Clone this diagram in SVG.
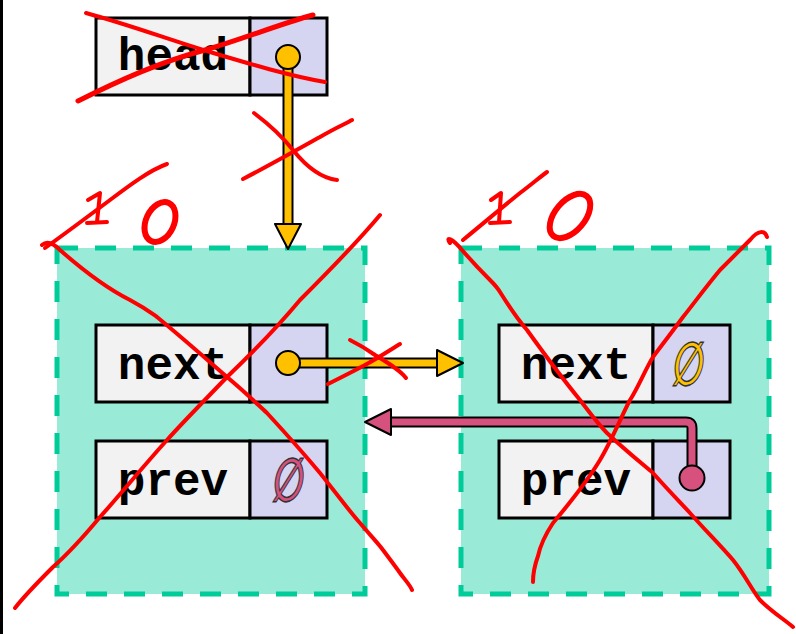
<svg xmlns="http://www.w3.org/2000/svg" width="796" height="634" viewBox="0 0 796 634">
<style>
.node{fill:#9AEAD8;stroke:#00CC99;stroke-width:5;stroke-dasharray:21 17}
.lab{fill:#F2F2F2;stroke:#000;stroke-width:3}
.val{fill:#D5D5F2;stroke:#000;stroke-width:3}
.t{font-family:"Courier New","Liberation Mono",monospace;font-weight:bold;font-size:46px;fill:#000}
.null{font-family:"DejaVu Sans",sans-serif;font-weight:bold;font-size:40px;stroke:#333;stroke-width:1}
.red{fill:none;stroke:#FF0000;stroke-linecap:round;stroke-linejoin:round}
</style>
<rect x="0" y="0" width="3" height="634" fill="#000"/>
<g id="head">
<rect class="lab" x="96" y="18" width="154" height="77"/>
<rect class="val" x="250" y="18" width="77" height="77"/>
<text class="t" x="173" y="70" text-anchor="middle">head</text>
</g>
<g id="node1">
<rect class="node" x="57" y="248" width="308" height="346"/>
<rect class="lab" x="96" y="325" width="154" height="77"/>
<rect class="val" x="250" y="325" width="77" height="77"/>
<text class="t" x="173" y="379" text-anchor="middle">next</text>
<rect class="lab" x="96" y="441" width="154" height="77"/>
<rect class="val" x="250" y="441" width="77" height="77"/>
<text class="t" x="173" y="495" text-anchor="middle">prev</text>
<text class="null" transform="translate(289,480) skewX(-8) scale(0.9,1.5)" x="0" y="14" text-anchor="middle" fill="#D6517D">∅</text>
</g>
<g id="node2">
<rect class="node" x="461" y="248" width="308" height="346"/>
<rect class="lab" x="499" y="325" width="154" height="77"/>
<rect class="val" x="653" y="325" width="77" height="77"/>
<text class="t" x="576" y="379" text-anchor="middle">next</text>
<text class="null" transform="translate(689,364) skewX(-8) scale(0.9,1.5)" x="0" y="14" text-anchor="middle" fill="#FFC000">∅</text>
<rect class="lab" x="499" y="441" width="154" height="77"/>
<rect class="val" x="653" y="441" width="77" height="77"/>
<text class="t" x="576" y="495" text-anchor="middle">prev</text>
</g>
<g id="connectors">
<!-- head -> node1 -->
<path d="M288,57 V226" stroke="#000" stroke-width="11" fill="none"/>
<path d="M288,57 V226" stroke="#FFC000" stroke-width="7" fill="none"/>
<polygon points="275,224 301,224 288,249" fill="#FFC000" stroke="#000" stroke-width="2" stroke-linejoin="round"/>
<circle cx="288" cy="57" r="12" fill="#FFC000" stroke="#000" stroke-width="2"/>
<!-- node1.next -> node2 -->
<path d="M288,363 H439" stroke="#000" stroke-width="11" fill="none"/>
<path d="M288,363 H439" stroke="#FFC000" stroke-width="7" fill="none"/>
<polygon points="437,350 437,376 463,363" fill="#FFC000" stroke="#000" stroke-width="2" stroke-linejoin="round"/>
<circle cx="288" cy="363" r="12" fill="#FFC000" stroke="#000" stroke-width="2"/>
<!-- node2.prev -> node1 -->
<path d="M692,478 V428 Q692,422 686,422 H389" stroke="#000" stroke-width="11" fill="none"/>
<path d="M692,478 V428 Q692,422 686,422 H389" stroke="#D6517D" stroke-width="7" fill="none"/>
<polygon points="391,409 391,435 365,422" fill="#D6517D" stroke="#000" stroke-width="2" stroke-linejoin="round"/>
<circle cx="692" cy="478" r="12.5" fill="#D6517D" stroke="#000" stroke-width="2"/>
</g>
<g id="scribbles">
<!-- head X -->
<path class="red" stroke-width="4" d="M86,13 C130,25 170,40 210,52 C250,64 290,76 325,82"/>
<path class="red" stroke-width="5" d="M78,101 C120,80 160,62 205,50 C240,40 280,24 313,15"/>
<!-- arrow X -->
<path class="red" stroke-width="4" d="M254,113 C270,125 285,140 293,150 C305,165 320,178 337,180"/>
<path class="red" stroke-width="4" d="M243,179 C270,165 300,148 320,137 C335,128 345,124 352,120"/>
<!-- left 10 -->
<path class="red" stroke-width="4" d="M45,248 C70,230 90,215 110,200 C130,185 150,170 167,164"/>
<path class="red" stroke-width="4" d="M88,200 L100,193 L97,222 M87,223 L107,222"/>
<ellipse class="red" stroke-width="6" cx="160" cy="222" rx="14" ry="21" transform="rotate(25 160 222)"/>
<!-- right 10 -->
<path class="red" stroke-width="4" d="M463,240 C485,222 505,205 520,193 C532,184 540,177 547,172"/>
<path class="red" stroke-width="4" d="M491,200 L501,193 L499,222 M490,223 L510,222"/>
<ellipse class="red" stroke-width="6" cx="570" cy="216" rx="15" ry="26" transform="rotate(40 570 216)"/>
<!-- left node X -->
<path class="red" stroke-width="4" d="M42,245 C48,240 55,245 60,250 C85,272 110,290 130,300 C145,308 150,312 157,317 C185,340 205,358 227,377 C245,392 255,402 267,413 C290,438 305,455 320,473 C340,498 350,512 360,523 C370,535 378,543 383,550 C392,562 398,570 400,573 C405,580 410,585 412,590"/>
<path class="red" stroke-width="4" d="M380,215 C355,245 325,275 300,300 C275,330 250,355 227,377 C205,400 185,420 167,440 C140,470 120,495 100,517 C85,535 70,552 53,567 C40,580 25,595 15,608"/>
<!-- right node X -->
<path class="red" stroke-width="4" d="M450,243 C445,236 452,238 462,250 C475,265 485,275 490,280 C495,285 497,287 500,292 C510,308 518,320 527,330 C545,355 562,378 580,400 C590,413 598,424 607,433 C625,450 640,462 653,473 C668,490 680,502 690,513 C705,530 720,545 733,560 C745,575 752,590 760,600 C772,612 785,620 793,627"/>
<path class="red" stroke-width="4" d="M767,237 C765,230 758,230 750,240 C740,250 730,260 720,270 C705,288 695,302 683,317 C672,332 662,345 653,357 C645,370 638,388 630,400 C622,415 612,440 600,460 C585,485 568,505 553,523 C545,535 540,547 538,556 C534,567 533,575 533,582"/>
<!-- next arrow X -->
<path class="red" stroke-width="4" d="M350,340 C360,345 368,350 375,355 C388,363 400,370 406,378"/>
<path class="red" stroke-width="4" d="M328,384 C340,378 352,372 365,365 C378,358 390,350 400,344"/>
</g>
</svg>
